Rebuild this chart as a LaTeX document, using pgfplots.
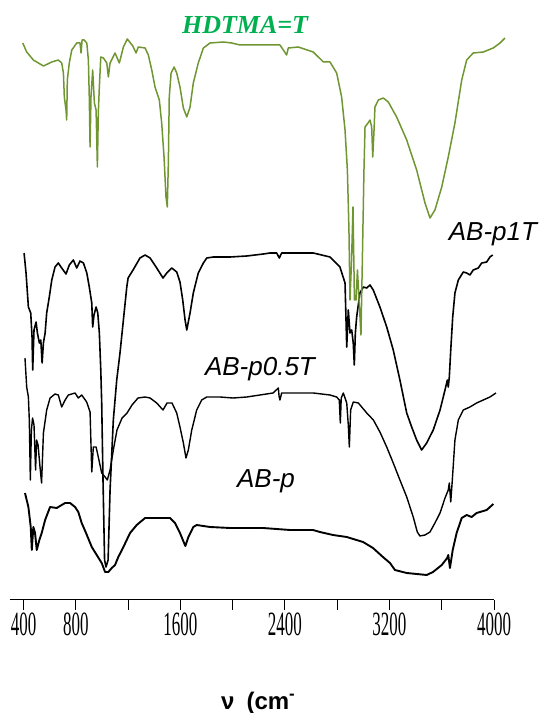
\documentclass[border=0pt]{standalone}
\usepackage{fontspec}
\setmainfont{Liberation Serif}
\setsansfont{Liberation Sans}
\usepackage{graphicx}
\usepackage{pgfplots}
\pgfplotsset{compat=1.18}
\definecolor{hdtmaline}{RGB}{112,150,50}
\definecolor{hdtmatext}{RGB}{0,176,80}
\newcommand{\tl}[1]{\scalebox{1}[2.0]{#1}}

\begin{document}
\begin{tikzpicture}
\useasboundingbox (0,0) rectangle (543pt,713pt);
\begin{axis}[
  at={(9.7pt,113pt)}, anchor=south west,
  scale only axis, width=484.3pt, height=600pt,
  xmin=294, xmax=4000, ymin=0, ymax=600,
  axis x line*=bottom, axis y line=none,
  x axis line style={-, line width=1pt},
  xtick={400,800,1200,1600,2000,2400,2800,3200,3600,4000},
  xticklabels={\tl{400},\tl{800},,\tl{1600},,\tl{2400},,\tl{3200},,\tl{4000}},
  xtick align=outside, major tick length=10pt,
  xtick style={black, line width=1pt},
  xticklabel style={font=\fontsize{17}{17}\selectfont, anchor=north, inner sep=0pt, yshift=-3pt},
  clip=false,
  every axis plot/.append style={line join=round, mark=none},
]
% AB-p
\addplot[black, line width=1.9pt] coordinates {
(411,107)(437,93)(455,73)(463,50)(475,73)(488,67)(501,50)(521,60)(539,67)(565,80)
(603,93)(654,92)(692,95)(718,97)(756,97)(794,93)(819,88)(845,77)(878,67)(922,53)
(960,45)(998,37)(1024,28)(1049,28)(1075,32)(1100,35)(1125,43)(1164,53)(1215,67)(1266,75)
(1330,82)(1521,82)(1559,77)(1597,67)(1638,54)(1661,63)(1699,73)(1725,75)(1827,73)(1980,72)
(2232,72)(2439,70)(2615,70)(2668,68)(2768,65)(2873,63)(2998,58)(3074,52)(3150,43)(3204,37)
(3242,30)(3332,27)(3485,25)(3533,28)(3600,35)(3642,42)(3650,45)(3663,32)(3684,50)(3714,67)
(3753,82)(3791,85)(3829,83)(3867,87)(3944,90)(3995,96)
};
% AB-p0.5T
\addplot[black, line width=1.4pt] coordinates {
(411,242)(424,213)(437,203)(444,180)(452,120)(460,170)(469,182)(480,175)(492,130)(500,160)
(511,155)(526,133)(538,117)(552,167)(577,190)(603,202)(641,206)(666,205)(692,193)(718,200)
(743,205)(794,207)(819,202)(845,205)(883,198)(909,188)(922,128)(934,153)(955,153)(972,143)
(998,127)(1024,123)(1041,120)(1062,130)(1087,150)(1115,170)(1154,182)(1192,187)(1230,195)(1276,202)
(1330,203)(1368,202)(1419,197)(1467,190)(1498,197)(1536,197)(1572,187)(1597,173)(1623,157)(1643,142)
(1661,150)(1687,170)(1725,190)(1763,200)(1802,203)(1903,203)(2003,202)(2108,203)(2209,205)(2309,207)
(2350,212)(2355,204)(2362,200)(2375,207)(2464,207)(2617,207)(2745,205)(2796,203)(2816,200)(2824,177)
(2831,202)(2847,207)(2873,197)(2885,175)(2893,153)(2903,190)(2923,198)(2962,197)(3026,187)(3077,180)
(3127,168)(3179,153)(3229,137)(3280,120)(3332,103)(3382,83)(3413,68)(3433,64)(3472,65)(3510,68)
(3548,77)(3587,87)(3625,102)(3650,110)(3658,117)(3669,98)(3681,120)(3701,160)(3727,180)(3765,190)
(3816,193)(3867,197)(3918,200)(3969,203)(4015,207)
};
% AB-p1T
\addplot[black, line width=1.6pt] coordinates {
(404,347)(419,327)(437,293)(455,287)(465,263)(470,230)(480,270)(496,278)(506,267)(521,257)
(532,260)(542,237)(552,257)(565,267)(577,287)(597,303)(616,320)(641,333)(666,337)(692,332)
(725,326)(750,335)(781,340)(807,332)(832,339)(858,337)(884,327)(903,313)(922,297)(929,273)
(939,285)(955,293)(968,287)(980,267)(991,230)(998,197)(1008,120)(1020,40)(1031,33)(1047,40)
(1062,110)(1087,180)(1113,220)(1138,247)(1164,280)(1190,313)(1200,322)(1238,330)(1291,342)(1330,345)
(1368,342)(1419,332)(1467,322)(1496,327)(1534,332)(1572,328)(1597,318)(1618,300)(1636,280)(1649,270)
(1674,287)(1699,307)(1737,327)(1776,337)(1802,342)(1852,343)(1980,343)(2108,344)(2235,346)(2286,347)
(2337,347)(2357,342)(2375,347)(2439,347)(2617,347)(2745,343)(2821,333)(2860,317)(2867,283)(2873,253)
(2885,290)(2898,267)(2911,270)(2923,257)(2931,235)(2939,267)(2949,283)(2974,307)(3000,313)(3026,312)
(3051,315)(3076,310)(3127,293)(3179,273)(3229,250)(3280,220)(3332,187)(3370,173)(3408,160)(3446,150)
(3485,157)(3535,170)(3587,190)(3625,210)(3643,220)(3650,213)(3658,223)(3669,250)(3684,283)(3701,307)
(3727,320)(3765,328)(3791,327)(3816,325)(3841,330)(3880,332)(3906,337)(3944,338)(3969,343)(3990,345)
};
% HDTMA
\addplot[hdtmaline, line width=1.5pt] coordinates {
(394,557)(424,548)(475,540)(552,534)(616,538)(666,540)(692,537)(705,527)(712,503)(725,490)
(730,480)(735,520)(750,537)(769,550)(807,557)(832,557)(840,547)(848,560)(863,560)(884,557)
(896,540)(903,503)(909,453)(916,503)(929,530)(942,497)(955,490)(965,433)(972,487)(980,513)
(991,543)(1011,542)(1037,537)(1049,523)(1062,537)(1100,547)(1133,537)(1164,553)(1194,561)(1236,554)
(1261,547)(1278,553)(1330,552)(1355,545)(1381,530)(1406,513)(1439,500)(1457,477)(1475,443)(1490,403)
(1500,393)(1508,437)(1515,503)(1529,527)(1552,533)(1572,527)(1597,513)(1623,492)(1649,483)(1674,493)
(1699,517)(1737,537)(1776,552)(1827,557)(1929,558)(1993,557)(2056,555)(2362,555)(2388,550)(2413,545)
(2426,552)(2502,553)(2617,548)(2694,538)(2745,538)(2796,527)(2834,503)(2860,470)(2878,430)(2890,370)
(2898,300)(2910,340)(2921,393)(2932,300)(2944,300)(2955,330)(2982,265)(2994,350)(3005,430)(3013,473)
(3036,477)(3051,480)(3064,473)(3072,443)(3082,470)(3089,493)(3115,500)(3153,502)(3191,498)(3255,483)
(3332,460)(3408,430)(3472,397)(3510,382)(3548,390)(3600,413)(3650,443)(3701,477)(3753,520)(3791,540)
(3841,547)(3918,548)(3994,552)(4046,557)(4084,562)
};
\node[font=\bfseries\itshape\fontsize{26}{26}\selectfont, text=hdtmatext] at (axis cs:2095,575) {HDTMA=T};
\node[font=\sffamily\itshape\fontsize{26}{26}\selectfont] at (axis cs:3992,366) {AB-p1T};
\node[font=\sffamily\itshape\fontsize{26}{26}\selectfont] at (axis cs:2209,231) {AB-p0.5T};
\node[font=\sffamily\itshape\fontsize{26}{26}\selectfont] at (axis cs:2255,119) {AB-p};
\end{axis}
\node[font=\sffamily\bfseries\fontsize{24}{24}\selectfont, anchor=base west, inner sep=0pt] at (221pt,4pt) {ν\hspace{0.5em}(cm\textsuperscript{-}};
\end{tikzpicture}
\end{document}
